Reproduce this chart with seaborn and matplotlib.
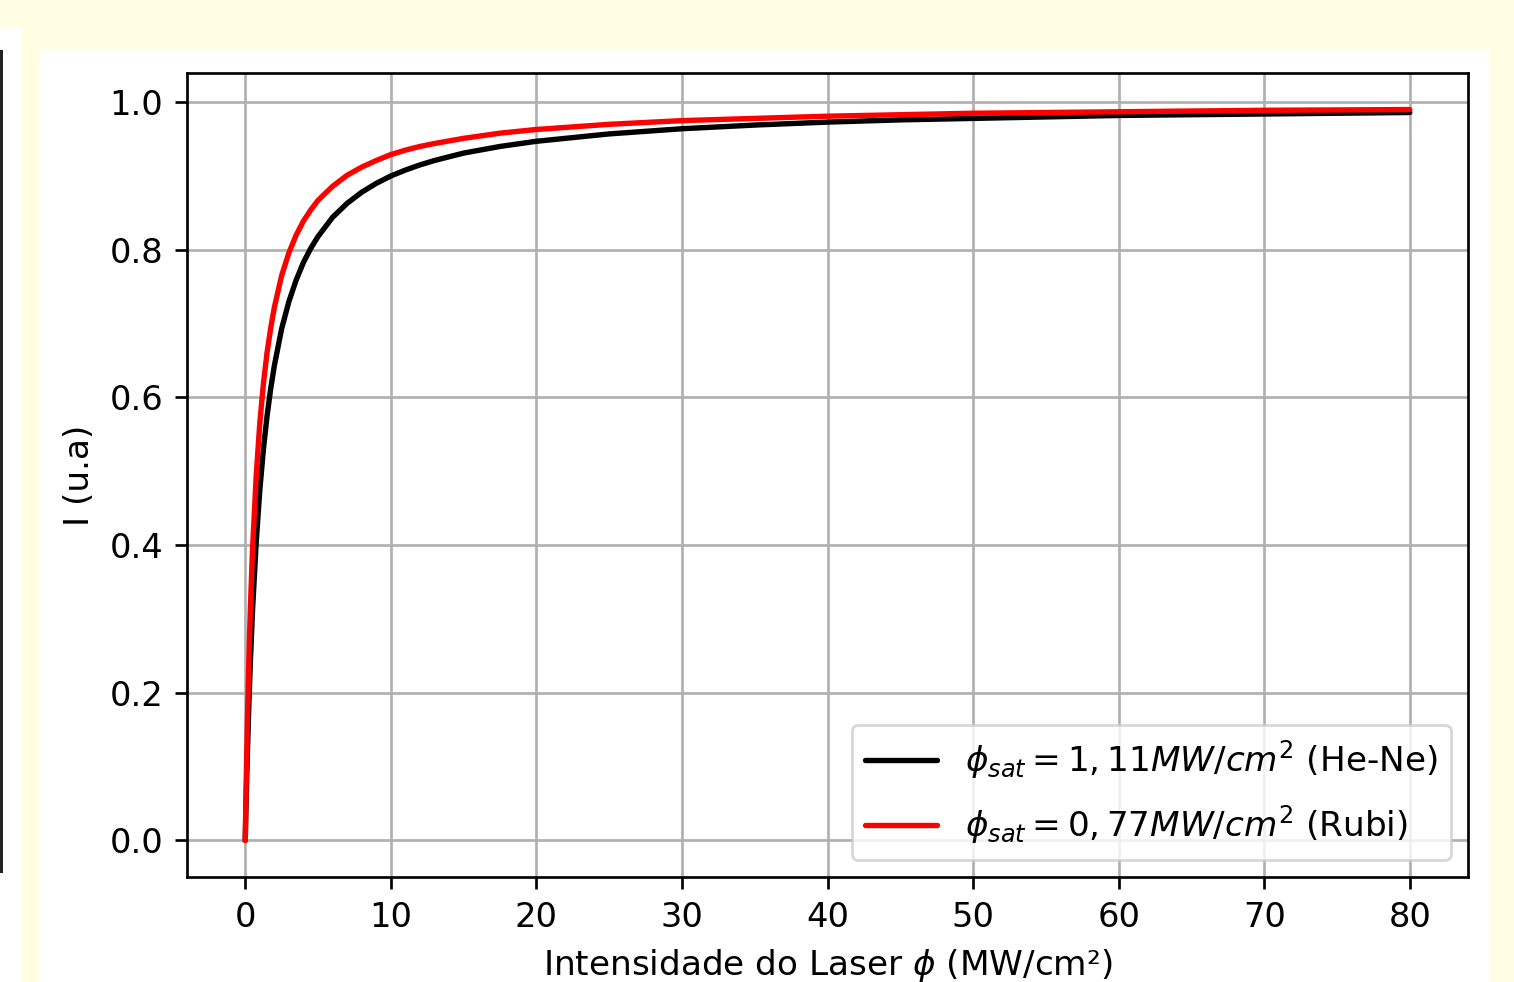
import matplotlib
matplotlib.use("Agg")
import matplotlib.pyplot as plt
from matplotlib.patches import Rectangle
import seaborn as sns
import pandas as pd

# Data
phi = [0, 0.05, 0.1, 0.15, 0.25, 0.35, 0.5, 0.75, 1, 1.25,
       1.5, 1.75, 2, 2.5, 3, 3.5, 4, 4.5, 5, 6,
       7, 8, 9, 10, 11, 12, 13, 15, 17.5, 20,
       25, 30, 35, 40, 45, 50, 60, 70, 80]
I_hene = [0, .043, .083, .119, .184, .240, .311, .403, .474, .530,
          .575, .612, .643, .693, .730, .759, .783, .802, .818, .844,
          .863, .878, .890, .900, .908, .915, .921, .931, .940, .947,
          .957, .964, .969, .973, .976, .978, .982, .984, .986]
I_rubi = [0, .061, .115, .163, .245, .313, .394, .493, .565, .619,
          .661, .694, .722, .765, .796, .820, .839, .854, .867, .886,
          .901, .912, .921, .929, .935, .940, .944, .951, .958, .963,
          .970, .975, .978, .981, .983, .985, .987, .989, .990]
labels = [r"$\phi_{sat} = 1,11 MW/cm^2$ (He-Ne)",
          r"$\phi_{sat} = 0,77 MW/cm^2$ (Rubi)"]
colors = ["black", "red"]

S = 2.42
sns.set_theme(style="ticks", rc={
    "font.size": 10 * S,
    "axes.edgecolor": "black",
    "axes.linewidth": 0.8 * S,
    "xtick.major.width": 0.8 * S,
    "ytick.major.width": 0.8 * S,
    "xtick.major.size": 3.5 * S,
    "ytick.major.size": 3.5 * S,
    "xtick.major.pad": 3.5 * S,
    "ytick.major.pad": 3.5 * S,
    "xtick.labelsize": 10 * S,
    "ytick.labelsize": 10 * S,
    "axes.labelsize": 10.2 * S,
    "legend.fontsize": 10.2 * S,
    "grid.color": "#b0b0b0",
    "grid.linewidth": 0.8 * S,
    "lines.linewidth": 1.5 * S,
    "xtick.color": "black",
    "ytick.color": "black",
    "text.color": "black",
    "axes.labelcolor": "black",
})
plt.rcParams["font.family"] = ["DejaVu Sans"]
plt.rcParams["mathtext.fontset"] = "dejavusans"

W, H = 1514, 982
fig = plt.figure(figsize=(W / 100, H / 100), dpi=100)
fig.patch.set_facecolor("#fffee3")

def px_rect(x0, y0, x1, y1, color):
    fig.patches.append(Rectangle((x0 / W, 1 - y1 / H), (x1 - x0) / W, (y1 - y0) / H,
                                 transform=fig.transFigure, facecolor=color,
                                 edgecolor="none", zorder=-10))

px_rect(0, 27, 22, 982, "white")
px_rect(0, 50, 3, 873, "#222222")
px_rect(39, 49, 1490, 982, "white")

ax = fig.add_axes([187 / W, 1 - 877 / H, (1468 - 187) / W, (877 - 73) / H])
ax.set_zorder(5)

df = pd.DataFrame({"phi": phi * 2,
                   "I": I_hene + I_rubi,
                   "serie": [labels[0]] * len(phi) + [labels[1]] * len(phi)})
sns.lineplot(data=df, x="phi", y="I", hue="serie", palette=colors, ax=ax,
             linewidth=1.6 * S, estimator=None, sort=False)

ax.set_xticks(range(0, 81, 10))
ax.set_yticks([0.0, 0.2, 0.4, 0.6, 0.8, 1.0])
ax.grid(True)
ax.set_xlabel(r"Intensidade do Laser $\phi$ (MW/cm²)", labelpad=4 * S)
ax.set_ylabel("I (u.a)", labelpad=4 * S)
for s in ax.spines.values():
    s.set_visible(True)
leg = ax.legend(loc="lower right", frameon=True, fancybox=True, framealpha=0.8,
                edgecolor="#cccccc", borderpad=0.4, handlelength=2.1,
                labelspacing=0.65)
leg.get_frame().set_linewidth(0.8 * S)

fig.savefig("out.png", dpi=100, facecolor=fig.get_facecolor())
